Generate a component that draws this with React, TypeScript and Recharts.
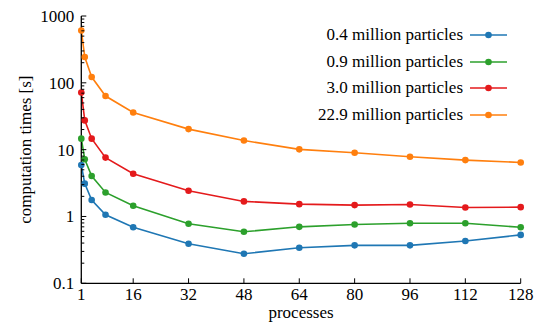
import React from "react";
import { LineChart, Line, XAxis, YAxis, Label } from "recharts";

const processes = [1, 2, 4, 8, 16, 32, 48, 64, 80, 96, 112, 128];
const t04 = [5.9, 3.1, 1.76, 1.06, 0.69, 0.39, 0.277, 0.34, 0.37, 0.37, 0.43, 0.53];
const t09 = [14.6, 7.2, 4.03, 2.29, 1.45, 0.78, 0.59, 0.7, 0.76, 0.79, 0.79, 0.69];
const t30 = [71.8, 27.4, 14.6, 7.6, 4.35, 2.43, 1.68, 1.53, 1.48, 1.51, 1.36, 1.38];
const t229 = [608, 243, 122, 63.4, 36, 20.3, 13.7, 10.1, 9.0, 7.83, 6.98, 6.43];

const xTicks = [1, 16, 32, 48, 64, 80, 96, 112, 128];
const yMajor = [0.1, 1, 10, 100, 1000];
const yMajorLabels = ["0.1", "1", "10", "100", "1000"];

const series = [
  { key: "t04", name: "0.4 million particles", color: "#1f77b4" },
  { key: "t09", name: "0.9 million particles", color: "#2ca02c" },
  { key: "t30", name: "3.0 million particles", color: "#e41a1c" },
  { key: "t229", name: "22.9 million particles", color: "#ff7f0e" },
];

const data = processes.map((p, i) => ({
  p,
  t04: t04[i],
  t09: t09[i],
  t30: t30[i],
  t229: t229[i],
}));

// minor log ticks 2..9 within each decade
const yTicks: number[] = [];
yMajor.forEach((m, i) => {
  yTicks.push(m);
  if (i < yMajor.length - 1) {
    for (let k = 2; k <= 9; k++) yTicks.push(+(m * k).toPrecision(3));
  }
});

const FONT = '"Liberation Serif", "Times New Roman", serif';

const YTick = (props: any) => {
  const { x, y, payload } = props;
  const idx = yMajor.findIndex((v) => Math.abs(v - payload.value) < 1e-9);
  const major = idx >= 0;
  return (
    <g>
      <line x1={x} x2={x + (major ? 5 : 3)} y1={y} y2={y} stroke="#000" strokeWidth={1} />
      {major && (
        <text x={x - 7} y={y} dy="0.35em" textAnchor="end" fontSize={17} fontFamily={FONT} fill="#000">
          {yMajorLabels[idx]}
        </text>
      )}
    </g>
  );
};

const XTick = (props: any) => {
  const { x, y, payload } = props;
  return (
    <g>
      <line x1={x} x2={x} y1={y} y2={y - 5} stroke="#000" strokeWidth={1} />
      <text x={x} y={y + 17} textAnchor="middle" fontSize={17} fontFamily={FONT} fill="#000">
        {payload.value}
      </text>
    </g>
  );
};

const LegendBox = () => (
  <div
    style={{
      position: "absolute",
      top: 21.7,
      right: 36,
      fontFamily: FONT,
      fontSize: 17,
      color: "#000",
    }}
  >
    {series.map((s) => (
      <div key={s.key} style={{ display: "flex", alignItems: "center", justifyContent: "flex-end", height: 26.7 }}>
        <span style={{ whiteSpace: "nowrap" }}>{s.name}</span>
        <svg width={37} height={10} style={{ marginLeft: 7 }}>
          <line x1={0} x2={37} y1={5} y2={5} stroke={s.color} strokeWidth={1.6} />
          <circle cx={18.5} cy={5} r={3.3} fill={s.color} />
        </svg>
      </div>
    ))}
  </div>
);

export default function App() {
  return (
    <div style={{ position: "absolute", left: 0, top: 0, width: 543, height: 327 }}>
      <LineChart
        width={543}
        height={327}
        data={data}
        margin={{ top: 16, right: 22.3, bottom: 13.7, left: 0 }}
      >
        <XAxis
          dataKey="p"
          type="number"
          domain={[1, 128]}
          ticks={xTicks}
          tickLine={false}
          tickSize={0}
          tickMargin={0}
          tick={<XTick />}
          height={30}
          axisLine={{ stroke: "#000", strokeWidth: 1.3 }}
        >
          <Label
            value="processes"
            position="bottom"
            offset={-7}
            style={{ fontFamily: FONT, fontSize: 17, fill: "#000" }}
          />
        </XAxis>
        <YAxis
          scale="log"
          domain={[0.1, 1000]}
          ticks={yTicks}
          interval={0}
          allowDataOverflow
          tickLine={false}
          tickSize={0}
          tickMargin={0}
          tick={<YTick />}
          width={81.3}
          axisLine={{ stroke: "#000", strokeWidth: 1.3 }}
        >
          <Label
            value="computation times [s]"
            angle={-90}
            position="insideLeft"
            offset={25}
            style={{ fontFamily: FONT, fontSize: 17, fill: "#000", textAnchor: "middle" }}
          />
        </YAxis>
        {series.map((s) => (
          <Line
            key={s.key}
            dataKey={s.key}
            name={s.name}
            stroke={s.color}
            strokeWidth={1.6}
            dot={{ r: 3.3, fill: s.color, stroke: s.color, strokeWidth: 0 }}
            isAnimationActive={false}
          />
        ))}
      </LineChart>
      <LegendBox />
    </div>
  );
}
